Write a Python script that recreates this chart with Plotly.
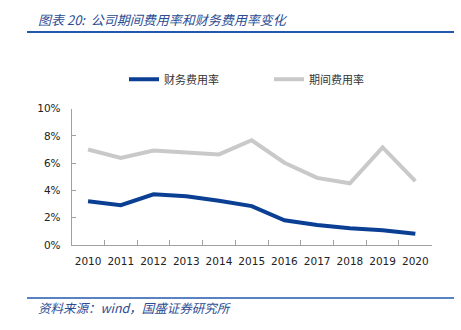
import plotly.graph_objects as go

years = ["2010", "2011", "2012", "2013", "2014", "2015", "2016", "2017", "2018", "2019", "2020"]
finance_rate = [0.032, 0.0292, 0.0372, 0.0358, 0.0325, 0.0285, 0.0181, 0.0146, 0.0122, 0.0108, 0.0082]
period_rate = [0.070, 0.0638, 0.0693, 0.0676, 0.0664, 0.0768, 0.0603, 0.0492, 0.0452, 0.0716, 0.0469]

W, H = 461, 330
BLUE = "#0A3F94"
GREY = "#C9C9C9"
TXT_BLUE = "#2B4C93"
RULE = "#2158AE"

fig = go.Figure()
fig.add_trace(go.Scatter(x=years, y=finance_rate, mode="lines", name="财务费用率",
                         line=dict(color=BLUE, width=4)))
fig.add_trace(go.Scatter(x=years, y=period_rate, mode="lines", name="期间费用率",
                         line=dict(color=GREY, width=4)))

def px(x):
    return x / W

def py(y):
    return (H - y) / H

fig.update_layout(
    width=W, height=H,
    margin=dict(l=0, r=0, t=0, b=0),
    paper_bgcolor="white", plot_bgcolor="white",
    font=dict(family="DejaVu Sans, Verdana, sans-serif", size=11, color="#222222"),
    showlegend=True,
    legend=dict(orientation="h", x=px(124), y=py(76), xanchor="left", yanchor="middle",
                font=dict(family="Noto Sans CJK SC", size=11, color="#333333"),
                itemwidth=30, entrywidth=100, bgcolor="rgba(0,0,0,0)"),
    xaxis=dict(domain=[px(71.7), px(431.7)], type="category", range=[-0.5, 10.5],
               showline=True, linecolor="#A0A0A0", linewidth=1,
               ticks="inside", tickson="boundaries", ticklen=5, tickcolor="#A0A0A0",
               ticklabelstandoff=6,
               showgrid=False, tickangle=0, tickfont=dict(size=10.5)),
    yaxis=dict(domain=[py(248), py(106.5)], range=[0, 0.1], dtick=0.02, tickformat=".0%",
               showline=True, linecolor="#A0A0A0", linewidth=1,
               ticks="inside", ticklen=4, tickcolor="#A0A0A0",
               ticklabelstandoff=8,
               showgrid=False, zeroline=False, tickfont=dict(size=10.5)),
)

fig.add_shape(type="line", xref="paper", yref="paper", x0=px(27), x1=px(454), y0=py(27), y1=py(27),
              line=dict(color=RULE, width=2))
fig.add_shape(type="line", xref="paper", yref="paper", x0=px(27), x1=px(454), y0=py(303), y1=py(303),
              line=dict(color=RULE, width=1.5))

fig.add_annotation(text="图表 20:  公司期间费用率和财务费用率变化", xref="paper", yref="paper",
                   x=px(36), y=py(14), xanchor="left", yanchor="middle", showarrow=False,
                   font=dict(family="Noto Sans CJK SC", size=13, color=TXT_BLUE, style="italic"))
fig.add_annotation(text="资料来源：wind，国盛证券研究所", xref="paper", yref="paper",
                   x=px(36), y=py(313), xanchor="left", yanchor="middle", showarrow=False,
                   font=dict(family="Noto Sans CJK SC", size=12.5, color=TXT_BLUE, style="italic"))

fig.write_html("out.html")
